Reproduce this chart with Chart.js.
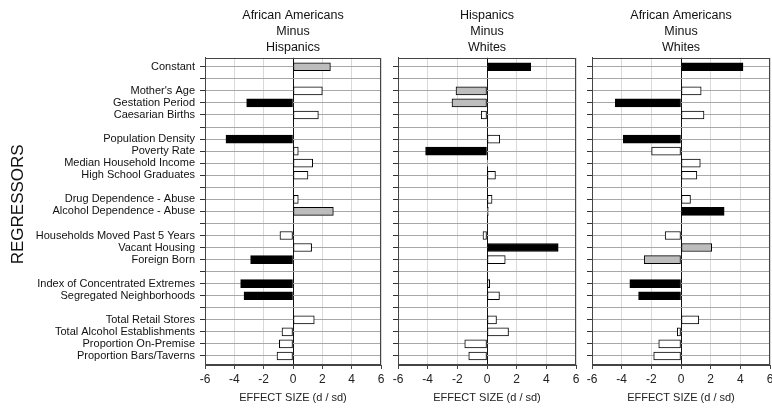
<!DOCTYPE html>
<html>
<head>
<meta charset="utf-8">
<script src="https://cdn.jsdelivr.net/npm/chart.js@4.4.0/dist/chart.umd.min.js"></script>
<style>
  html, body { margin: 0; padding: 0; background: #fff; }
  #wrap { position: relative; width: 772px; height: 414px; }
  #wrap canvas { position: absolute; left: 0; top: 0; }
</style>
</head>
<body>
<div id="wrap">
  <canvas id="p1" width="772" height="414"></canvas>
  <canvas id="p2" width="772" height="414"></canvas>
  <canvas id="p3" width="772" height="414"></canvas>
</div>
<script>
// Rows, top to bottom ("" = spacer row)
const regressors = [
  "Constant", "",
  "Mother's Age", "Gestation Period", "Caesarian Births", "",
  "Population Density", "Poverty Rate", "Median Household Income", "High School Graduates", "",
  "Drug Dependence - Abuse", "Alcohol Dependence - Abuse", "",
  "Households Moved Past 5 Years", "Vacant Housing", "Foreign Born", "",
  "Index of Concentrated Extremes", "Segregated Neighborhoods", "",
  "Total Retail Stores", "Total Alcohol Establishments", "Proportion On-Premise", "Proportion Bars/Taverns"
];

const xTicks = [-6, -4, -2, 0, 2, 4, 6];

// effect sizes (d / sd)
const afamMinusHisp = [2.55, null, 2.0, -3.16, 1.73, null, -4.57, 0.36, 1.34, 1.02, null, 0.36, 2.75, null,
  -0.89, 1.27, -2.89, null, -3.57, -3.34, null, 1.45, -0.75, -0.93, -1.09];
const hispMinusWhite = [2.95, null, -2.09, -2.36, -0.39, null, 0.86, -4.14, 0.02, 0.57, null, 0.34, 0.09, null,
  -0.27, 4.8, 1.23, null, 0.18, 0.84, null, 0.64, 1.45, -1.5, -1.23];
const afamMinusWhite = [4.18, null, 1.36, -4.43, 1.55, null, -3.89, -1.98, 1.3, 1.07, null, 0.64, 2.91, null,
  -1.07, 2.07, -2.48, null, -3.45, -2.86, null, 1.2, -0.25, -1.5, -1.84];

// bar shading: B = black, G = gray, W = white
const shades1 = ["G", "", "W", "B", "W", "", "B", "W", "W", "W", "", "W", "G", "", "W", "W", "B", "", "B", "B", "", "W", "W", "W", "W"];
const shades2 = ["B", "", "G", "G", "W", "", "W", "B", "W", "W", "", "W", "W", "", "W", "B", "W", "", "W", "W", "", "W", "W", "W", "W"];
const shades3 = ["B", "", "W", "B", "W", "", "B", "W", "W", "W", "", "W", "B", "", "W", "G", "G", "", "B", "B", "", "W", "W", "W", "W"];

const shadeColor = { B: "#000000", G: "#bdbdbd", W: "#ffffff" };

Chart.defaults.font.family = "'Liberation Sans', Arial, sans-serif";

// dark frame around the plot area
const framePlugin = {
  id: "frame",
  afterDatasetsDraw(chart) {
    const a = chart.chartArea, ctx = chart.ctx;
    ctx.save();
    ctx.strokeStyle = "#444";
    ctx.lineWidth = 1;
    ctx.strokeRect(Math.round(a.left) + 0.5, Math.round(a.top) + 0.5,
      Math.round(a.right - a.left) - 1, Math.round(a.bottom - a.top) - 1);
    ctx.restore();
  }
};

function makePanel(id, title, values, shades, pad, yWidth, showLabels) {
  const pts = [], colors = [];
  values.forEach((v, i) => {
    if (v === null) return;
    pts.push({ x: v, y: i });
    colors.push(shadeColor[shades[i]]);
  });

  new Chart(document.getElementById(id), {
    type: "bar",
    data: {
      datasets: [{
        data: pts,
        backgroundColor: colors,
        borderColor: "#000",
        borderWidth: 1,
        borderSkipped: false,
        barThickness: 8
      }]
    },
    plugins: [framePlugin],
    options: {
      responsive: false,
      animation: false,
      indexAxis: "y",
      layout: { padding: pad },
      plugins: {
        legend: { display: false },
        tooltip: { enabled: false },
        title: {
          display: true,
          text: title,
          fullSize: false,
          color: "#111",
          font: { size: 12.5, weight: "normal", lineHeight: 1.3 },
          padding: { top: 7, bottom: 2 }
        }
      },
      scales: {
        x: {
          type: "linear",
          min: xTicks[0],
          max: xTicks[xTicks.length - 1],
          afterBuildTicks: s => { s.ticks = xTicks.map(v => ({ value: v })); },
          ticks: { color: "#222", font: { size: 12 }, padding: 3, maxRotation: 0 },
          grid: {
            color: c => c.tick.value === 0 ? "#111" : "#d9d9d9",
            tickColor: "#444",
            tickLength: 4
          },
          border: { color: "#444" },
          title: {
            display: true,
            text: "EFFECT SIZE (d / sd)",
            color: "#222",
            font: { size: 11 },
            padding: { top: 0, bottom: 9 }
          },
          afterFit: s => {
            s.height = 49;
            // let end labels overhang instead of shrinking the plot
            s.paddingLeft = 0;
            s.paddingRight = 0;
          }
        },
        y: {
          type: "linear",
          reverse: true,
          offset: false,
          min: -0.75,
          max: regressors.length - 0.25,
          afterBuildTicks: s => { s.ticks = regressors.map((_, i) => ({ value: i })); },
          ticks: {
            autoSkip: false,
            color: "#111",
            font: { size: 11 },
            padding: 5,
            callback: v => showLabels ? regressors[v] : ""
          },
          grid: { offset: false, color: "#a8a8a8", tickColor: "#333", tickLength: 5 },
          border: { color: "#444" },
          title: {
            display: showLabels,
            text: "   REGRESSORS",
            color: "#111",
            font: { size: 17 },
            padding: { top: 8, bottom: 0 }
          },
          afterFit: s => { s.width = yWidth; }
        }
      }
    }
  });
}

makePanel("p1", ["African Americans", "Minus", "Hispanics"], afamMinusHisp, shades1,
  { left: 0, right: 391, top: 0, bottom: 0 }, 205, true);
makePanel("p2", ["Hispanics", "Minus", "Whites"], hispMinusWhite, shades2,
  { left: 388, right: 196, top: 0, bottom: 0 }, 10, false);
makePanel("p3", ["African Americans", "Minus", "Whites"], afamMinusWhite, shades3,
  { left: 582, right: 2, top: 0, bottom: 0 }, 10, false);
</script>
</body>
</html>
